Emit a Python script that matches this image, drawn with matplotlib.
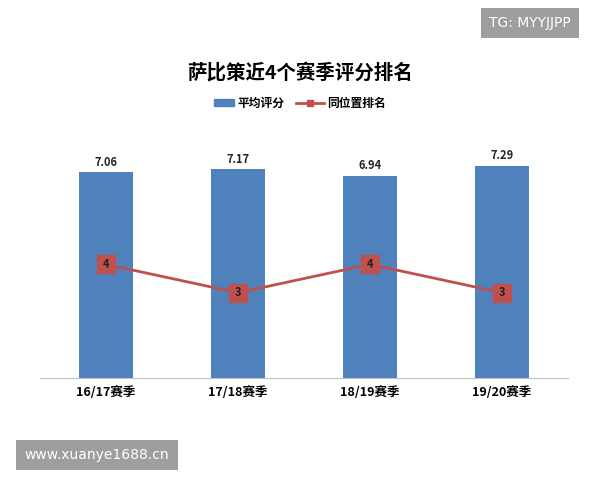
import matplotlib
matplotlib.use("Agg")
import matplotlib.pyplot as plt

plt.rcParams['font.family'] = ['Noto Sans CJK SC', 'DejaVu Sans']

categories = ["16/17赛季", "17/18赛季", "18/19赛季", "19/20赛季"]
ratings = [7.06, 7.17, 6.94, 7.29]
ranks = [4, 3, 4, 3]

fig = plt.figure(figsize=(6, 4.8), dpi=100)
ax = fig.add_axes([40/600, 1-378/480, 528/600, 233/480])
x = list(range(len(categories)))
ax.bar(x, ratings, width=0.41, color='#4f81bd')
for xi, v in zip(x, ratings):
    ax.text(xi, v + 0.12, f"{v:.2f}", ha='center', va='bottom', fontsize=8, fontweight='bold', color='#222222')
ax.set_xlim(-0.5, 3.5)
ax.set_ylim(0, 8)
ax.set_yticks([])
ax.set_xticks(x)
ax.set_xticklabels(categories, fontsize=9, fontweight='bold')
ax.tick_params(axis='x', length=0, pad=6)
for s in ['top', 'right', 'left']:
    ax.spines[s].set_visible(False)
ax.spines['bottom'].set_color('#bfbfbf')

ax2 = ax.twinx()
ax2.plot(x, ranks, color='#c0504d', lw=2, marker='s', markersize=13,
         markerfacecolor='#c0504d', markeredgecolor='#c0504d')
for xi, r in zip(x, ranks):
    ax2.text(xi, r, str(r), ha='center', va='center', fontsize=8, fontweight='bold', color='#222222')
ax2.set_ylim(0, 8.2)
ax2.set_yticks([])
for s in ['top', 'right', 'left', 'bottom']:
    ax2.spines[s].set_visible(False)

fig.text(0.5, 1-72/480, "萨比策近4个赛季评分排名", ha='center', va='center', fontsize=14, fontweight='bold')
# legend
fig.patches.append(plt.Rectangle((214/600, 1-106/480), 20/600, 7/480, transform=fig.transFigure, color='#4f81bd'))
fig.text(237/600, 1-103/480, "平均评分", va='center', fontsize=8.5, fontweight='bold')
fig.add_artist(plt.Line2D([296/600, 324/600], [1-103/480]*2, color='#c0504d', lw=2))
fig.add_artist(plt.Line2D([310/600], [1-103/480], marker='s', markersize=5, color='#c0504d'))
fig.text(327/600, 1-103/480, "同位置排名", va='center', fontsize=8.5, fontweight='bold')

fig.text(530/600, 1-23/480, "TG: MYYJJPP", ha='center', va='center', fontsize=10, color='white',
         family=['DejaVu Sans'], bbox=dict(boxstyle='square,pad=0.6', fc='#9e9e9e', ec='none'))
fig.text(97/600, 1-455/480, "www.xuanye1688.cn", ha='center', va='center', fontsize=10, color='white',
         family=['DejaVu Sans'], bbox=dict(boxstyle='square,pad=0.6', fc='#9e9e9e', ec='none'))

fig.savefig("out.png", dpi=100)
